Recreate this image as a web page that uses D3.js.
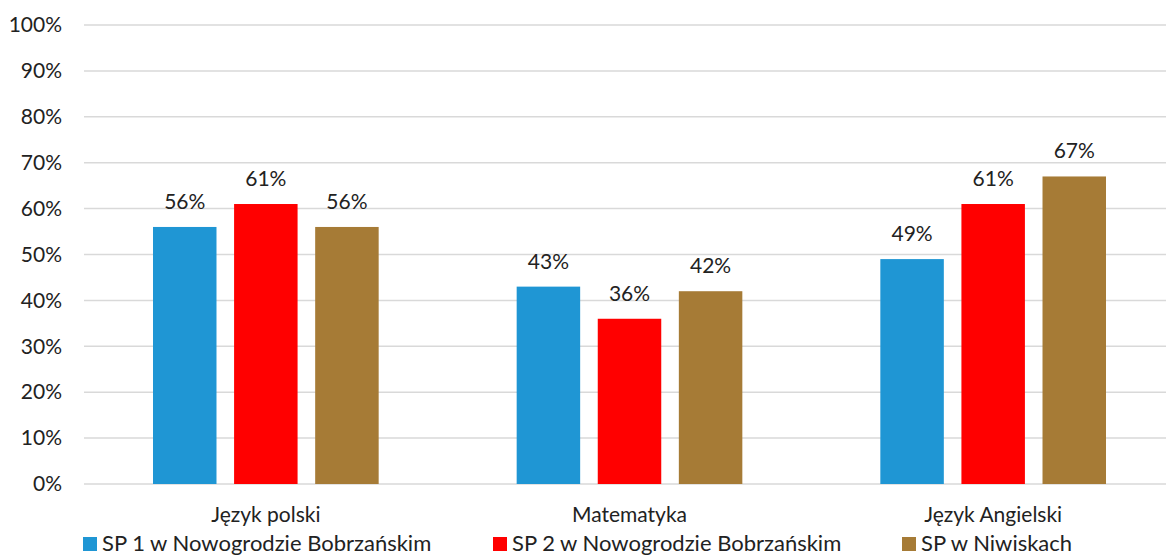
<!DOCTYPE html>
<html>
<head>
<meta charset="utf-8">
<script src="https://cdn.jsdelivr.net/npm/d3@7"></script>
<style>
  body { margin: 0; background: #fff; }
  text { font-family: Lato, "Open Sans", sans-serif; fill: #222; }
</style>
</head>
<body>
<div id="chart"></div>
<script>
var svgWidth = 1166;
var svgHeight = 556;

var margin = { top: 25, right: -9, bottom: 72, left: 84 };
var width = svgWidth - margin.left - margin.right;
var height = svgHeight - margin.top - margin.bottom;

// data
var subjects = ["Język polski", "Matematyka", "Język Angielski"];
var schools = ["SP 1 w Nowogrodzie Bobrzańskim", "SP 2 w Nowogrodzie Bobrzańskim", "SP w Niwiskach"];
var sp1 = [56, 43, 49];
var sp2 = [61, 36, 61];
var spNiwiski = [56, 42, 67];
var yTicks = [0, 10, 20, 30, 40, 50, 60, 70, 80, 90, 100];
var colors = ["#1F96D4", "#FF0000", "#A67B36"];

var series = [sp1, sp2, spNiwiski];

var svg = d3.select("#chart")
  .append("svg")
  .attr("width", svgWidth)
  .attr("height", svgHeight);

var chartGroup = svg.append("g")
  .attr("transform", `translate(${margin.left}, ${margin.top})`);

var x0 = d3.scaleBand()
  .domain(subjects)
  .range([0, width])
  .paddingInner(0)
  .paddingOuter(0);

var x1 = d3.scaleBand()
  .domain(schools)
  .range([69, x0.bandwidth() - 69])
  .paddingInner(0.217);

var y = d3.scaleLinear()
  .domain([0, 100])
  .range([height, 0]);

// gridlines
chartGroup.append("g")
  .selectAll("line")
  .data(yTicks)
  .enter()
  .append("line")
  .attr("x1", 0)
  .attr("x2", width)
  .attr("y1", d => y(d))
  .attr("y2", d => y(d))
  .attr("stroke", "#D9D9D9")
  .attr("stroke-width", 1.5);

// y axis labels
var leftAxis = d3.axisLeft(y)
  .tickValues(yTicks)
  .tickFormat(d => d + "%")
  .tickSize(0)
  .tickPadding(22);

var yAxis = chartGroup.append("g").call(leftAxis);
yAxis.select(".domain").remove();
yAxis.selectAll("text")
  .style("font-size", "21px")
  .style("font-family", "Lato, sans-serif")
  .style("fill", "#222");

// bars
var groups = chartGroup.selectAll(".subject")
  .data(subjects)
  .enter()
  .append("g")
  .attr("class", "subject")
  .attr("transform", d => `translate(${x0(d)}, 0)`);

groups.selectAll("rect")
  .data((d, i) => schools.map((s, j) => ({ school: s, value: series[j][i], idx: j })))
  .enter()
  .append("rect")
  .attr("x", d => x1(d.school))
  .attr("y", d => y(d.value))
  .attr("width", x1.bandwidth())
  .attr("height", d => height - y(d.value))
  .attr("fill", d => colors[d.idx]);

groups.selectAll(".val")
  .data((d, i) => schools.map((s, j) => ({ school: s, value: series[j][i] })))
  .enter()
  .append("text")
  .attr("class", "val")
  .attr("x", d => x1(d.school) + x1.bandwidth() / 2)
  .attr("y", d => y(d.value) - 18)
  .attr("text-anchor", "middle")
  .style("font-size", "21px")
  .text(d => d.value + "%");

// category labels
var bottomAxis = d3.axisBottom(x0).tickSize(0).tickPadding(23);
var xAxis = chartGroup.append("g")
  .attr("transform", `translate(0, ${height})`)
  .call(bottomAxis);
xAxis.select(".domain").remove();
xAxis.selectAll("text")
  .style("font-size", "21px")
  .style("font-family", "Lato, sans-serif")
  .style("fill", "#222");

// legend
var legendX = [83, 493, 902];
var legend = svg.append("g")
  .selectAll("g")
  .data(schools)
  .enter()
  .append("g")
  .attr("transform", (d, i) => `translate(${legendX[i]}, 537)`);

legend.append("rect")
  .attr("width", 14)
  .attr("height", 14)
  .attr("fill", (d, i) => colors[i]);

legend.append("text")
  .attr("x", 19)
  .attr("y", 14)
  .style("font-size", "22px")
  .text(d => d);
</script>
</body>
</html>
